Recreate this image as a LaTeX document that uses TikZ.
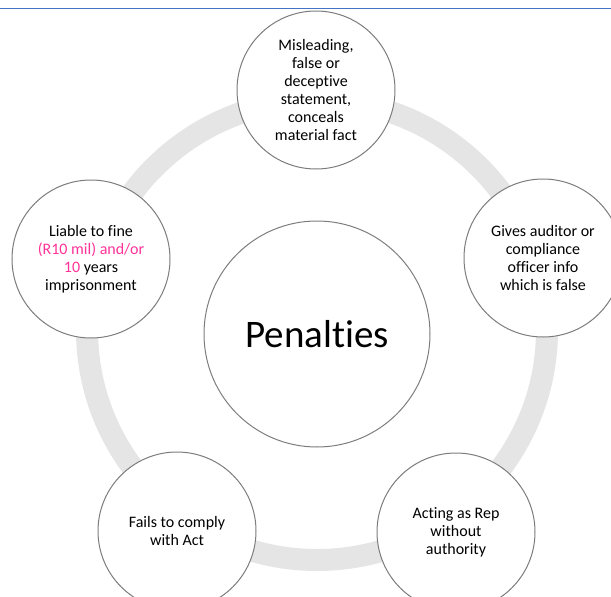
\documentclass[tikz,border=0pt]{standalone}
\usepackage{fontspec}
\setmainfont{Carlito}[Ligatures=NoCommon]
\definecolor{ringgray}{RGB}{229,229,229}
\definecolor{edgegray}{RGB}{125,125,125}
\definecolor{pinktxt}{RGB}{255,51,153}
\definecolor{topblue}{RGB}{68,114,196}
\begin{document}
\begin{tikzpicture}[x=1pt,y=-1pt,
  bub/.style={circle,draw=edgegray,line width=1pt,fill=white,align=center,
    inner sep=0pt,minimum size=158pt,font=\fontsize{16}{18}\selectfont},
  hub/.style={circle,draw=edgegray,line width=1pt,fill=white,align=center,
    inner sep=0pt,minimum size=226pt,font=\fontsize{39}{44}\selectfont},
  ringline/.style={draw=ringgray,line width=22pt},
  rule/.style={draw=topblue,line width=1.5pt}]
\useasboundingbox (0,0) rectangle (611,597);
\clip (0,0) rectangle (611,597);
\fill[white] (0,0) rectangle (611,597);
\coordinate (lineL) at (0,8.7);
\coordinate (lineR) at (611,8.7);
\draw[rule] (lineL) -- (lineR);
\coordinate (ringc) at (317,330);
\draw[ringline] (ringc) circle[radius=230];
\node[hub] (hub) at (317,334) {Penalties};
\node[bub] (top) at (316,90) {Misleading,\\false or\\deceptive\\statement,\\conceals\\material fact};
\node[bub] (right) at (543,258) {Gives auditor or\\compliance\\officer info\\which is false};
\node[bub] (left) at (91,259) {Liable to fine\\\textcolor{pinktxt}{(R10 mil) and/or}\\\textcolor{pinktxt}{10} years\\imprisonment};
\node[bub] (botl) at (177,531) {Fails to comply\\with Act};
\node[bub] (botr) at (456,532) {Acting as Rep\\without\\authority};
\end{tikzpicture}
\end{document}
